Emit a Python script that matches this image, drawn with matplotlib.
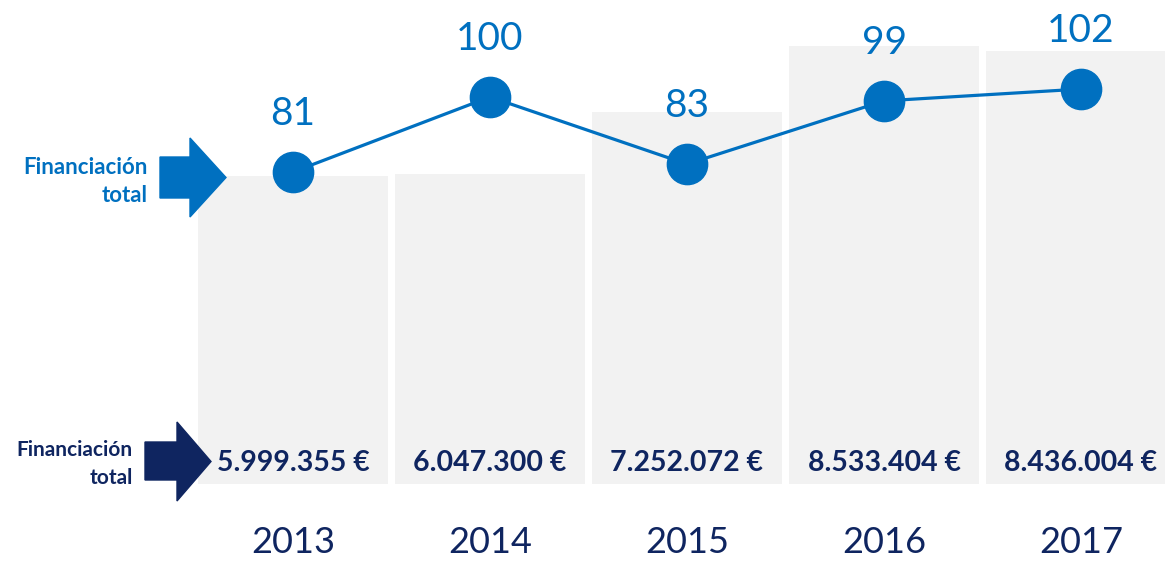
import numpy as np
import matplotlib.pyplot as plt
from matplotlib.patches import Polygon
from matplotlib.transforms import blended_transform_factory

years = ['2013', '2014', '2015', '2016', '2017']
funding = [5999355, 6047300, 7252072, 8533404, 8436004]
funding_labels = ['5.999.355 €', '6.047.300 €', '7.252.072 €', '8.533.404 €', '8.436.004 €']
index_values = [81, 100, 83, 99, 102]

BLUE = '#0070C0'
NAVY = '#0F2560'
GREY = '#F2F2F2'

plt.rcParams['font.family'] = ['Lato', 'DejaVu Sans']

W, H = 1165, 562
fig = plt.figure(figsize=(W / 100, H / 100), dpi=100)
ax = fig.add_axes([0, 0, 1, 1])
ax2 = ax.twinx()

x = np.arange(len(years))
ax.bar(x, np.array(funding) / 1e6, width=0.965, color=GREY, zorder=1)
ax.set_xlim(-293 / 197, (W - 293) / 197)
ax.set_ylim(-78 / 51.3, 484 / 51.3)

ax2.plot(x, index_values, color=BLUE, lw=2.3, marker='o', ms=29, zorder=3)
ax2.set_ylim(81 - (H - 172) / 3.95, 81 + 172 / 3.95)
for xi, v in zip(x, index_values):
    ax2.annotate(str(v), (xi, v), xytext=(0, 58), textcoords='offset pixels',
                 ha='center', va='center', fontsize=28, color=BLUE)

tr = blended_transform_factory(ax.transData, ax.transAxes)
for xi, lab, yr in zip(x, funding_labels, years):
    ax.text(xi, 1 - 463 / H, lab, transform=tr, ha='center', va='center',
            fontsize=20.5, fontweight='bold', color=NAVY)
    ax.text(xi, 1 - 553 / H, yr, transform=tr, ha='center', va='baseline',
            fontsize=26, color=NAVY)

for a in (ax, ax2):
    a.axis('off')


# arrows in figure pixel coords (y from top)
def arrow(x0, x1, x2, sy0, sy1, hy0, hy1, color):
    tip = (hy0 + hy1) / 2
    pts = [(x0, sy0), (x1, sy0), (x1, hy0), (x2, tip), (x1, hy1), (x1, sy1), (x0, sy1)]
    pts = [(px / W, 1 - py / H) for px, py in pts]
    fig.patches.append(Polygon(pts, closed=True, color=color, transform=fig.transFigure, zorder=5))


arrow(160, 190, 226, 157, 198, 138, 217, BLUE)
arrow(145, 177, 211, 442, 480, 422, 501, NAVY)

fig.text(148 / W, 1 - 167 / H, 'Financiación', ha='right', va='center',
         fontsize=16, fontweight='bold', color=BLUE)
fig.text(148 / W, 1 - 196 / H, 'total', ha='right', va='center',
         fontsize=16, fontweight='bold', color=BLUE)
fig.text(133 / W, 1 - 450 / H, 'Financiación', ha='right', va='center',
         fontsize=15, fontweight='bold', color=NAVY)
fig.text(133 / W, 1 - 478 / H, 'total', ha='right', va='center',
         fontsize=15, fontweight='bold', color=NAVY)

fig.savefig('out.png', dpi=100)
